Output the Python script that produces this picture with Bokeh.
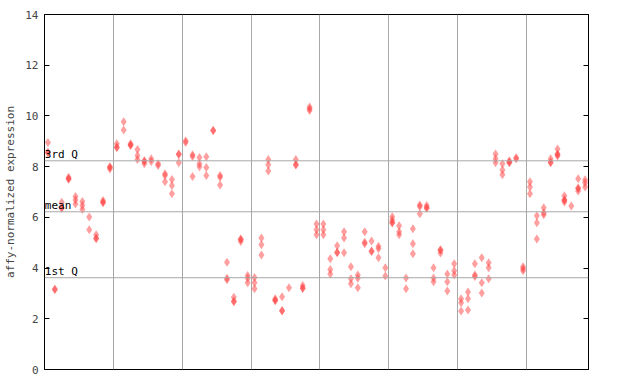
from bokeh.plotting import figure
from bokeh.models import Span, Label, FixedTicker, LinearAxis, ColumnDataSource
from bokeh.embed import file_html
from bokeh.resources import INLINE

# expression values per sample (column index = sample position)
values = [
    [8.95, 8.57, 8.55], [3.17, 3.15], [6.6, 6.38, 6.36], [7.58, 7.52, 7.50],
    [6.82, 6.68, 6.53], [6.63, 6.47, 6.31], [6.01, 5.51], [5.31, 5.18, 5.16],
    [6.66, 6.6, 6.58], [8.0, 7.98, 7.91], [8.9, 8.77, 8.75], [9.77, 9.45],
    [8.9, 8.85, 8.83], [8.68, 8.44, 8.28], [8.23, 8.21, 8.11], [8.31, 8.2],
    [8.11, 8.05], [7.72, 7.65, 7.4], [7.49, 7.26, 6.93], [8.5, 8.48, 8.15],
    [9.02, 8.95], [8.47, 8.4, 7.61], [8.36, 8.11, 8.0], [8.39, 7.97, 7.65],
    [9.44, 9.42], [7.65, 7.58, 7.28], [4.23, 3.6, 3.54], [2.85, 2.69, 2.67],
    [5.15, 5.13, 5.05], [3.71, 3.6, 3.42], [3.63, 3.42, 3.18], [5.19, 4.92, 4.52],
    [8.28, 8.07, 7.83], [2.79, 2.73, 2.71], [2.87, 2.33, 2.31], [3.22],
    [8.28, 8.08, 8.06], [3.31, 3.21, 3.19], [10.35, 10.28, 10.21], [5.74, 5.51, 5.31],
    [5.74, 5.51, 5.31], [4.37, 3.94, 3.77], [4.88, 4.62, 4.6], [5.43, 5.19, 4.6],
    [4.05, 3.58, 3.38], [3.73, 3.6, 3.22], [5.43, 5.02, 4.96], [5.07, 4.67, 4.65],
    [4.86, 4.76, 4.41], [4.01, 3.69], [6.02, 5.9, 5.8, 5.78], [5.67, 5.43, 5.31],
    [3.61, 3.18], [5.55, 4.96, 4.56], [6.49, 6.43, 6.14], [6.47, 6.38, 6.36],
    [4.01, 3.61, 3.46], [4.72, 4.70, 4.59], [3.77, 3.46, 3.1], [4.17, 3.89, 3.73],
    [2.79, 2.63, 2.31], [3.06, 2.79, 2.35], [4.17, 3.73, 3.67], [4.41, 3.42, 3.02],
    [4.21, 4.01, 3.58], [8.5, 8.31, 8.15], [8.11, 7.87, 7.68], [8.23, 8.17, 8.15],
    [8.35, 8.31], [4.05, 3.97, 3.89], [7.4, 7.2, 6.93], [6.06, 5.79, 5.15],
    [6.38, 6.18, 6.1], [8.31, 8.17, 8.15], [8.7, 8.5, 8.48, 8.42], [6.85, 6.69, 6.67, 6.61],
    [6.45], [7.52, 7.16, 7.14, 7.04], [7.48, 7.36, 7.2],
]
group_bounds = [9.5, 19.5, 29.5, 39.5, 49.5, 59.5, 69.5]
q1, mean_v, q3 = 3.62, 6.22, 8.23
y_ticks = [0, 2, 4, 6, 8, 10, 12, 14]

xs, ys = [], []
for i, vals in enumerate(values):
    for v in vals:
        xs.append(i)
        ys.append(v)
src = ColumnDataSource(dict(x=xs, y=ys))

MONO = "DejaVu Sans Mono"

p = figure(width=640, height=384, output_backend="svg", toolbar_location=None,
           x_range=(-0.5, len(values) - 0.5), y_range=(0, 14),
           min_border_left=44, min_border_right=52, min_border_top=14, min_border_bottom=15)
p.outline_line_color = "black"
p.outline_line_width = 1
p.background_fill_color = "white"
p.border_fill_color = "white"

p.xaxis.visible = False
p.xgrid.ticker = FixedTicker(ticks=group_bounds)
p.xgrid.grid_line_color = "#a8a8a8"
p.xgrid.grid_line_width = 1
p.ygrid.visible = False

ya = p.yaxis[0]
ya.ticker = FixedTicker(ticks=y_ticks)
ya.major_tick_in = 5
ya.major_tick_out = 0
ya.minor_tick_line_color = None
ya.axis_line_color = "black"
ya.major_label_text_font = MONO
ya.major_label_text_font_size = "11px"
ya.major_label_standoff = 6
ya.axis_label = "affy-normalized expression"
ya.axis_label_text_font = MONO
ya.axis_label_text_font_size = "11px"
ya.axis_label_text_font_style = "normal"
ya.axis_label_standoff = 5

ra = LinearAxis(ticker=FixedTicker(ticks=y_ticks))
ra.major_tick_in = 5
ra.major_tick_out = 0
ra.minor_tick_line_color = None
ra.major_label_text_font_size = "0px"
ra.major_label_text_color = None
p.add_layout(ra, "right")

for val, name in [(q3, "3rd Q"), (mean_v, "mean"), (q1, "1st Q")]:
    p.add_layout(Span(location=val, dimension="width", line_color="#a8a8a8", line_width=1))
    p.add_layout(Label(x=-0.45, y=val, text=name, text_font=MONO, text_font_size="11px",
                       text_color="black", text_align="left", text_baseline="bottom"))

p.scatter("x", "y", source=src, marker="diamond", size=9,
          fill_color="#ff4040", fill_alpha=0.5, line_color=None)

open("out.html", "w").write(file_html(p, INLINE))
